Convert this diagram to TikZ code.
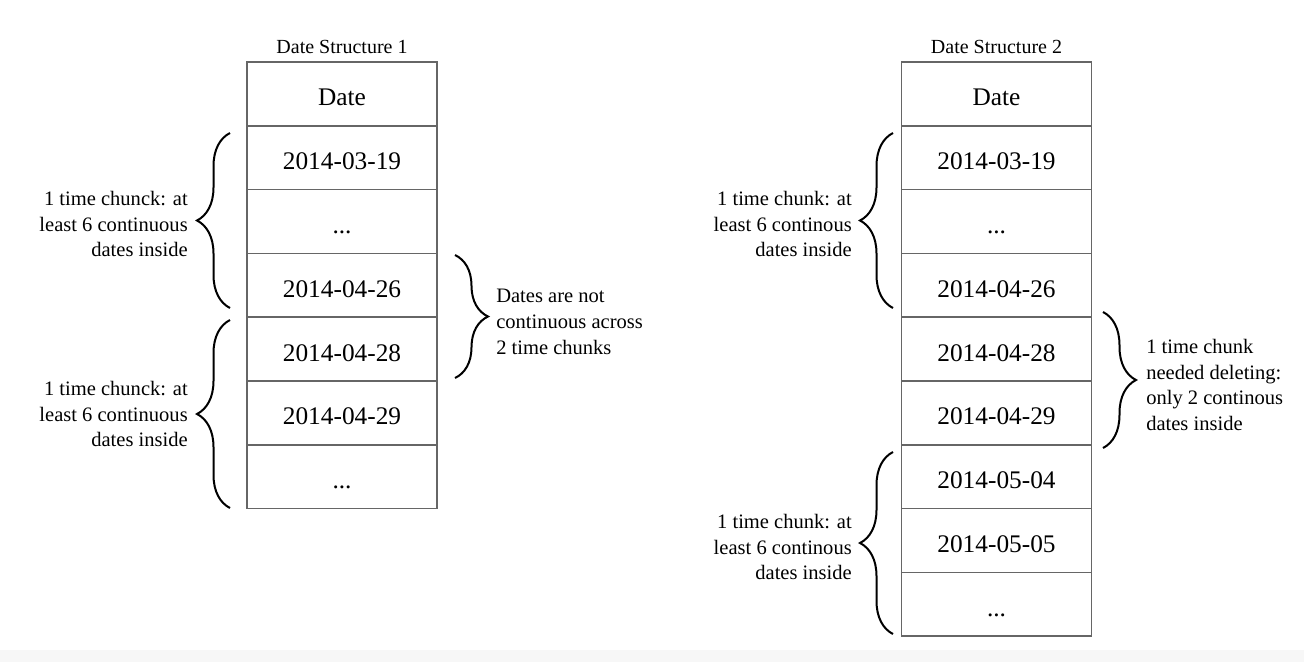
\documentclass[tikz,border=0pt]{standalone}
\usepackage{fontspec}
\setmainfont{Liberation Serif}
\usetikzlibrary{decorations.pathreplacing,calc}
\definecolor{cellgray}{HTML}{666666}
\definecolor{stripgray}{HTML}{F7F7F7}
\begin{document}
\begin{tikzpicture}[x=0.75pt,y=-0.75pt,
  cell/.style={draw=cellgray, line width=1.1pt, minimum width=142.5pt, minimum height=47.85pt, inner sep=0pt, outer sep=0pt, text height=18pt, text depth=0pt, font=\fontsize{19}{23}\selectfont},
  lbl/.style={inner sep=0pt, font=\fontsize{15.4}{19.3}\selectfont},
  ttl/.style={inner sep=0pt, font=\fontsize{15}{18}\selectfont},
  brc/.style={decorate, decoration={brace, amplitude=24.75pt}, line width=1.5pt}]
\useasboundingbox (0,0) rectangle (1304,662);
\fill[stripgray] (0,650) rectangle (1304,662);

% Table 1
\node[ttl] (t1) at (342,47) {Date Structure 1};
\node[cell] (a0) at (342,93.9) {Date};
\node[cell] (a1) at (342,157.7) {2014-03-19};
\node[cell] (a2) at (342,221.5) {...};
\node[cell] (a3) at (342,285.3) {2014-04-26};
\node[cell] (a4) at (342,349.1) {2014-04-28};
\node[cell] (a5) at (342,412.9) {2014-04-29};
\node[cell] (a6) at (342,476.7) {...};

\coordinate (b1s) at (230,308);
\coordinate (b1e) at (230,133);
\coordinate (b2s) at (230,508);
\coordinate (b2e) at (230,320);
\coordinate (b3s) at (455,255);
\coordinate (b3e) at (455,378);
\draw[brc] (b1s) -- (b1e);
\draw[brc] (b2s) -- (b2e);
\draw[brc] (b3s) -- (b3e);

\node[lbl, align=right, anchor=east] (l1) at (188,224) {1 time chunck: at\\least 6 continuous\\dates inside};
\node[lbl, align=right, anchor=east] (l2) at (188,414) {1 time chunck: at\\least 6 continuous\\dates inside};
\node[lbl, align=left, anchor=west] (l3) at (496,322) {Dates are not\\continuous across\\2 time chunks};

% Table 2
\node[ttl] (t2) at (996.5,47) {Date Structure 2};
\node[cell] (c0) at (996.5,93.9) {Date};
\node[cell] (c1) at (996.5,157.7) {2014-03-19};
\node[cell] (c2) at (996.5,221.5) {...};
\node[cell] (c3) at (996.5,285.3) {2014-04-26};
\node[cell] (c4) at (996.5,349.1) {2014-04-28};
\node[cell] (c5) at (996.5,412.9) {2014-04-29};
\node[cell] (c6) at (996.5,476.7) {2014-05-04};
\node[cell] (c7) at (996.5,540.5) {2014-05-05};
\node[cell] (c8) at (996.5,604.3) {...};

\coordinate (d1s) at (893,308);
\coordinate (d1e) at (893,133);
\coordinate (d2s) at (893,634);
\coordinate (d2e) at (893,452);
\coordinate (d3s) at (1103,312);
\coordinate (d3e) at (1103,448);
\draw[brc] (d1s) -- (d1e);
\draw[brc] (d2s) -- (d2e);
\draw[brc] (d3s) -- (d3e);

\node[lbl, align=right, anchor=east] (m1) at (852,224) {1 time chunk: at\\least 6 continous\\dates inside};
\node[lbl, align=right, anchor=east] (m2) at (852,547) {1 time chunk: at\\least 6 continous\\dates inside};
\node[lbl, align=left, anchor=west] (m3) at (1146,385) {1 time chunk\\needed deleting:\\only 2 continous\\dates inside};
\end{tikzpicture}
\end{document}
